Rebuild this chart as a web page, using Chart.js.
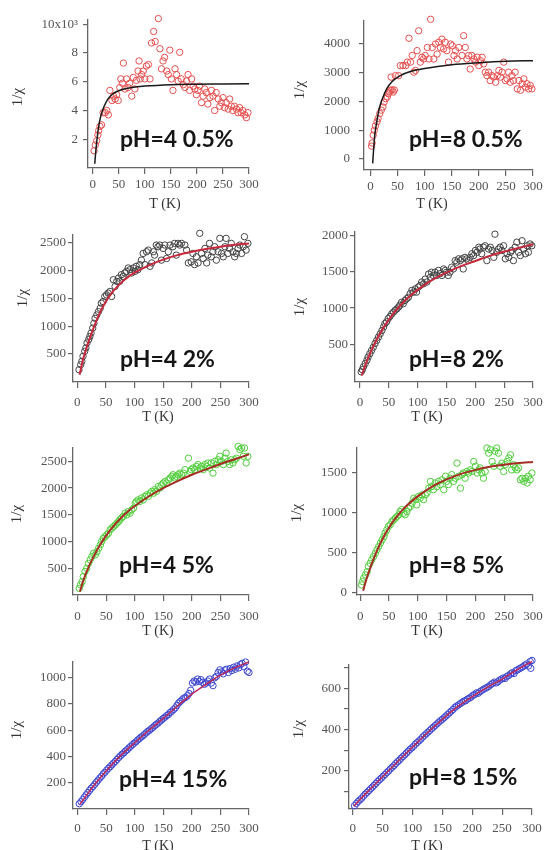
<!DOCTYPE html>
<html>
<head>
<meta charset="utf-8">
<script src="https://cdn.jsdelivr.net/npm/chart.js@4.4.0/dist/chart.umd.min.js"></script>
<style>
  body { margin: 0; background: #fff; }
  #fig { position: relative; width: 545px; height: 850px; overflow: hidden; }
  #fig canvas { position: absolute; }
</style>
</head>
<body>
<div id="fig"></div>
<script>
// T (K) tick labels shared by all panels
const xTicks = [0, 50, 100, 150, 200, 250, 300];

// y tick values per panel
const yTicks_pH4_05 = [2, 4, 6, 8, 10];
const yTicks_pH8_05 = [0, 1000, 2000, 3000, 4000];
const yTicks_pH4_2 = [500, 1000, 1500, 2000, 2500];
const yTicks_pH8_2 = [500, 1000, 1500, 2000];
const yTicks_pH4_5 = [500, 1000, 1500, 2000, 2500];
const yTicks_pH8_5 = [0, 500, 1000, 1500];
const yTicks_pH4_15 = [200, 400, 600, 800, 1000];
const yTicks_pH8_15 = [100, 200, 300, 400, 500, 600, 700];

// measured points [T, 1/chi]  (pH=4 0.5% in units of 10^3)
const pts_pH4_05 = [[2.6,1.2],[5,1.6],[7.7,1.9],[10,2.3],[11.5,2.6],[14,2.9],[17,3.0],[20,3.85],[24,3.85],[27,4.0],[30,3.7],[33,5.4],[37,4.7],[40,5.0],[43,4.8],[46,5.1],[49,4.7],[52,5.6],[54,6.2],[57,5.9],[59,7.3],[62,5.5],[65,6.2],[68,5.6],[71,5.9],[75,5.0],[78,6.3],[81,5.5],[84,6.1],[87,6.75],[89,7.45],[91,6.2],[94,6.5],[97,6.75],[100,6.2],[103,7.1],[107,7.2],[110,6.2],[113,8.7],[117,9.5],[120,8.8],[126,10.4],[129,8.3],[132,6.9],[135,7.45],[138,7.7],[142,6.75],[145,6.5],[148,8.2],[151,6.2],[154,5.4],[158,6.9],[161,6.5],[164,6.05],[167,8.05],[170,6.2],[174,5.8],[177,5.6],[180,6.05],[183,6.5],[186,5.4],[190,6.2],[193,5.7],[196,5.5],[199,5.1],[202,5.4],[205,5.7],[209,4.55],[212,5.0],[215,5.5],[218,5.25],[221,4.45],[225,4.9],[228,5.4],[231,5.0],[234,4.0],[237,5.25],[241,4.8],[244,4.3],[247,4.55],[250,4.9],[253,4.2],[256,4.55],[260,4.1],[263,4.8],[266,4.3],[269,4.0],[272,4.3],[276,4.1],[279,3.85],[282,4.2],[285,3.85],[288,4.0],[292,3.7],[295,3.5],[298,3.85]];
const fit_pH4_05 = [[4,0.3],[6,1.2],[8,1.9],[10,2.5],[13,3.2],[17,3.8],[22,4.3],[30,4.85],[40,5.2],[55,5.45],[75,5.6],[100,5.7],[150,5.8],[200,5.83],[250,5.85],[300,5.87]];

const pts_pH8_05 = [[2,450],[3,560],[5,830],[7,1000],[9,1150],[12,1300],[14,1410],[17,1580],[20,1700],[23,1810],[25,1980],[28,2100],[31,2160],[33,2270],[35,2330],[37,2390],[40,2410],[42,2330],[44,2400],[38,2850],[46,2900],[52,2900],[55,3250],[60,3250],[65,3250],[68,3370],[71,4200],[74,3370],[77,3600],[80,3020],[83,3080],[86,3770],[89,4460],[92,3370],[95,3540],[98,3480],[101,3600],[105,3880],[108,3480],[111,4860],[114,3880],[117,3480],[120,4000],[123,3650],[126,4060],[129,3880],[132,4170],[135,3830],[138,4060],[141,3770],[144,3370],[148,4000],[151,3940],[154,3600],[157,3770],[160,3480],[163,3880],[169,3600],[172,4290],[175,3880],[178,3480],[181,3600],[184,3130],[187,3600],[191,3480],[194,3370],[197,3540],[200,3250],[203,3420],[206,3540],[209,3310],[212,3020],[215,2900],[218,3020],[221,2730],[224,2900],[227,2850],[231,2670],[234,2900],[237,3080],[240,2850],[243,3020],[246,3370],[249,2730],[252,2790],[255,3020],[258,2670],[261,2900],[264,2730],[267,3020],[271,2440],[274,2730],[277,2390],[280,2620],[283,2790],[286,2500],[289,2620],[292,2440],[295,2560],[298,2440]];
const fit_pH8_05 = [[4,-150],[6,400],[8,850],[12,1350],[16,1750],[22,2100],[30,2450],[40,2700],[55,2900],[75,3050],[100,3150],[150,3280],[200,3350],[250,3400],[300,3420]];

const pts_pH4_2 = [[3,220],[6,310],[8,370],[10,460],[13,550],[15,610],[17,700],[20,760],[22,815],[24,875],[27,965],[29,1050],[31,1140],[34,1200],[37,1260],[40,1320],[42,1410],[45,1440],[48,1530],[51,1560],[54,1590],[57,1620],[60,1530],[63,1830],[66,1710],[69,1800],[72,1860],[74,1800],[77,1920],[80,1890],[83,1950],[86,1980],[89,2040],[92,2010],[95,1950],[98,2040],[101,1980],[103,2070],[106,2010],[109,2100],[112,2180],[115,2300],[118,2100],[121,2330],[124,2360],[127,2070],[130,2130],[133,2330],[135,2270],[138,2450],[141,2420],[144,2450],[147,2180],[150,2390],[153,2450],[156,2210],[159,2330],[162,2450],[167,2420],[170,2480],[173,2270],[176,2480],[179,2450],[182,2480],[188,2450],[191,2360],[194,2130],[199,2150],[202,2300],[205,2100],[208,2240],[211,2130],[214,2660],[217,2300],[220,2210],[223,2390],[226,2130],[228,2270],[231,2480],[234,2240],[237,2330],[240,2420],[243,2180],[246,2330],[249,2570],[252,2300],[255,2240],[258,2420],[260,2570],[263,2300],[266,2390],[269,2480],[272,2330],[275,2240],[278,2300],[281,2390],[284,2450],[287,2300],[290,2420],[292,2600],[295,2360],[298,2480]];
const fit_pH4_2 = [[4,130],[10,400],[20,730],[30,1010],[40,1250],[50,1440],[60,1590],[75,1760],[90,1890],[110,2010],[130,2110],[150,2190],[175,2270],[200,2330],[225,2380],[250,2420],[275,2455],[300,2480]];

const pts_pH8_2 = [[2,120],[4,150],[6,190],[9,235],[12,280],[14,325],[17,370],[20,415],[23,460],[26,510],[29,555],[32,600],[35,645],[38,690],[41,740],[43,785],[46,810],[49,855],[52,885],[55,920],[58,945],[61,970],[64,990],[67,1015],[69,1040],[72,1080],[75,1060],[78,1105],[81,1130],[84,1150],[87,1200],[90,1245],[93,1220],[96,1265],[98,1220],[101,1290],[104,1310],[107,1360],[110,1335],[113,1400],[116,1360],[119,1470],[122,1425],[124,1495],[127,1450],[130,1495],[133,1450],[136,1520],[139,1475],[142,1450],[145,1540],[148,1520],[150,1495],[153,1450],[156,1495],[159,1565],[162,1540],[165,1655],[168,1635],[171,1680],[174,1655],[177,1680],[179,1540],[182,1700],[185,1680],[188,1655],[191,1700],[194,1750],[197,1725],[200,1795],[203,1770],[206,1840],[208,1815],[211,1750],[214,1840],[217,1860],[220,1655],[223,1815],[226,1840],[229,1795],[232,1700],[234,2020],[237,1770],[240,1815],[243,1840],[246,1795],[249,1860],[252,1680],[255,1750],[258,1700],[261,1770],[263,1795],[266,1655],[269,1840],[272,1910],[275,1770],[278,1725],[281,1930],[284,1815],[287,1750],[290,1860],[292,1770],[295,1885],[298,1860]];
const fit_pH8_2 = [[3,70],[10,230],[20,420],[30,580],[40,720],[50,840],[60,945],[75,1080],[90,1190],[110,1310],[130,1410],[150,1490],[175,1580],[200,1650],[225,1720],[250,1780],[275,1830],[300,1880]];

const pts_pH4_5 = [[3,125],[5,190],[8,250],[10,345],[13,440],[16,500],[19,590],[22,655],[25,720],[28,780],[31,750],[34,810],[37,875],[40,940],[42,1000],[45,1060],[48,1090],[51,1125],[54,1155],[57,1220],[60,1250],[63,1280],[66,1310],[69,1345],[72,1375],[74,1410],[77,1440],[80,1470],[83,1530],[86,1500],[89,1560],[92,1530],[95,1595],[98,1625],[101,1720],[103,1750],[106,1780],[109,1750],[112,1815],[115,1780],[118,1845],[121,1875],[124,1845],[127,1905],[130,1940],[133,1905],[135,1970],[138,1940],[141,2030],[144,2000],[147,2060],[150,2095],[153,2125],[156,2095],[159,2155],[162,2190],[165,2220],[167,2250],[170,2190],[173,2220],[176,2250],[179,2280],[182,2250],[185,2280],[188,2345],[194,2560],[197,2310],[199,2345],[202,2375],[205,2345],[208,2405],[211,2440],[214,2375],[217,2405],[220,2345],[223,2440],[226,2405],[228,2470],[231,2375],[234,2470],[237,2280],[240,2500],[243,2440],[246,2530],[249,2595],[252,2500],[255,2440],[258,2560],[260,2655],[263,2500],[266,2440],[269,2530],[272,2470],[275,2530],[278,2560],[281,2780],[284,2720],[287,2750],[290,2595],[292,2750],[295,2470],[298,2595]];
const fit_pH4_5 = [[4,60],[10,270],[20,540],[30,760],[40,950],[50,1110],[60,1250],[75,1430],[90,1580],[110,1740],[130,1880],[150,2000],[175,2130],[200,2250],[225,2350],[250,2450],[275,2540],[300,2630]];

const pts_pH8_5 = [[2,93],[4,135],[6,180],[9,220],[12,260],[14,325],[17,365],[20,410],[23,450],[26,490],[29,535],[32,575],[35,620],[38,660],[41,700],[43,745],[46,785],[49,830],[52,850],[55,890],[58,910],[61,935],[64,955],[67,975],[69,1015],[72,1040],[75,995],[78,975],[81,1015],[84,1060],[87,1080],[90,1120],[93,1185],[96,1165],[98,1100],[101,1205],[104,1185],[107,1225],[110,1165],[113,1225],[116,1250],[119,1310],[122,1395],[124,1330],[127,1290],[130,1375],[133,1330],[136,1395],[139,1355],[142,1415],[145,1290],[148,1460],[150,1395],[153,1355],[156,1435],[159,1480],[162,1395],[165,1435],[168,1625],[171,1460],[174,1310],[177,1480],[179,1500],[182,1435],[185,1520],[188,1500],[191,1540],[194,1520],[197,1645],[200,1585],[203,1500],[206,1540],[208,1565],[211,1500],[214,1435],[217,1520],[220,1815],[223,1750],[226,1795],[229,1645],[232,1585],[234,1775],[237,1815],[240,1750],[243,1585],[246,1625],[249,1520],[252,1605],[255,1645],[258,1690],[261,1730],[263,1540],[266,1605],[269,1565],[272,1540],[275,1565],[278,1415],[281,1435],[284,1395],[287,1435],[290,1375],[292,1460],[295,1415],[298,1500]];
const fit_pH8_5 = [[5,20],[10,150],[20,360],[30,540],[40,690],[50,815],[60,920],[75,1050],[90,1150],[110,1260],[130,1350],[150,1420],[175,1490],[200,1540],[225,1580],[250,1605],[275,1625],[300,1640]];

const pts_pH4_15 = [[3,40],[6,55],[9,72],[12,90],[15,108],[18,125],[21,142],[24,158],[27,172],[30,188],[33,205],[36,220],[39,236],[42,250],[45,268],[48,280],[51,296],[54,310],[57,322],[60,336],[63,350],[66,362],[69,378],[72,392],[75,405],[78,418],[81,428],[84,442],[87,452],[90,466],[93,478],[96,490],[99,502],[102,512],[105,525],[108,535],[111,548],[114,556],[117,568],[120,580],[123,592],[126,600],[129,612],[132,622],[135,635],[138,645],[141,655],[144,668],[147,678],[150,690],[153,700],[156,712],[159,720],[162,735],[165,745],[168,758],[171,770],[174,790],[177,808],[180,820],[183,832],[186,845],[189,850],[192,862],[195,880],[198,905],[201,960],[204,975],[207,968],[210,990],[213,972],[216,985],[219,965],[222,950],[225,960],[228,975],[231,990],[234,960],[237,940],[240,1000],[243,1010],[246,1040],[249,1060],[252,1045],[255,1030],[258,1060],[261,1065],[264,1040],[267,1070],[270,1055],[273,1080],[276,1065],[279,1090],[282,1075],[285,1100],[288,1110],[291,1085],[294,1120],[297,1050],[300,1040]];
const fit_pH4_15 = [[4,35],[10,70],[25,160],[50,290],[75,405],[100,505],[125,600],[150,690],[175,785],[200,875],[225,950],[250,1020],[275,1075],[300,1120]];

const pts_pH8_15 = [[3,32],[6,42],[9,52],[12,60],[15,68],[18,78],[21,88],[24,96],[27,105],[30,114],[33,122],[36,131],[39,140],[42,150],[45,158],[48,166],[51,175],[54,183],[57,192],[60,200],[63,210],[66,218],[69,226],[72,236],[75,245],[78,252],[81,262],[84,270],[87,278],[90,287],[93,296],[96,305],[99,312],[102,320],[105,330],[108,338],[111,346],[114,354],[117,364],[120,372],[123,380],[126,388],[129,396],[132,405],[135,412],[138,420],[141,428],[144,436],[147,444],[150,450],[153,458],[156,466],[159,474],[162,482],[165,490],[168,498],[171,508],[174,514],[177,520],[180,526],[183,532],[186,538],[189,540],[192,548],[195,552],[198,558],[201,566],[204,570],[207,578],[210,576],[213,584],[216,590],[219,596],[222,600],[225,605],[228,610],[231,618],[234,624],[237,630],[240,626],[243,632],[246,640],[249,645],[252,650],[255,648],[258,658],[261,662],[264,670],[267,676],[270,672],[273,686],[276,690],[279,695],[282,700],[285,705],[288,712],[291,718],[294,708],[297,730],[298,697],[300,735]];
const fit_pH8_15 = [[2,30],[10,55],[25,100],[50,172],[75,245],[100,315],[125,385],[150,450],[175,510],[200,560],[225,605],[250,645],[275,690],[300,730]];

const labels = ['pH=4 0.5%', 'pH=8 0.5%', 'pH=4 2%', 'pH=8 2%', 'pH=4 5%', 'pH=8 5%', 'pH=4 15%', 'pH=8 15%'];

// layout: plot box in page px (L,R,T,B), axis ranges, text anchors
const panels = [
  { pts: pts_pH4_05, fit: fit_pH4_05, yt: yTicks_pH4_05, col: 0, row: 0, L: 88, R: 249, T: 20, B: 168, xMin: -9, yMin: 0, yMax: 10.3,
    dot: 'rgb(228,80,80)', line: '#1a1a1a', lw: 1.5, xPad: 3, yPad: 5, xt: [165, 204], ylab: [18, 97], lab: [120, 147],
    fmt: v => v === 10 ? '10x10³' : v },
  { pts: pts_pH8_05, fit: fit_pH8_05, yt: yTicks_pH8_05, col: 1, row: 0, L: 364, R: 533, T: 21, B: 170, xMin: -12, yMin: -380, yMax: 4800,
    dot: 'rgb(228,80,80)', line: '#1a1a1a', lw: 1.5, xPad: 3, yPad: 9, xt: [432, 204], ylab: [300, 90], lab: [409, 147] },
  { pts: pts_pH4_2, fit: fit_pH4_2, yt: yTicks_pH4_2, col: 0, row: 1, L: 73, R: 249, T: 235, B: 382, xMin: -7.5, yMin: 0, yMax: 2630,
    dot: '#444', line: 'rgb(200,40,60)', lw: 2, xPad: 7, yPad: 2, xt: [158, 417], ylab: [23, 298], lab: [120, 367] },
  { pts: pts_pH8_2, fit: fit_pH8_2, yt: yTicks_pH8_2, col: 1, row: 1, L: 355, R: 533, T: 232, B: 382, xMin: -8.7, yMin: -20, yMax: 2050,
    dot: '#444', line: 'rgb(200,40,60)', lw: 2, xPad: 7, yPad: 2, xt: [427, 417], ylab: [300, 307], lab: [409, 367] },
  { pts: pts_pH4_5, fit: fit_pH4_5, yt: yTicks_pH4_5, col: 0, row: 2, L: 73, R: 249, T: 448, B: 595, xMin: -8, yMin: 0, yMax: 2750,
    dot: 'rgb(80,205,60)', line: 'rgb(165,45,35)', lw: 2, xPad: 8, yPad: 1, xt: [158, 631], ylab: [17, 514], lab: [119, 573] },
  { pts: pts_pH8_5, fit: fit_pH8_5, yt: yTicks_pH8_5, col: 1, row: 2, L: 357, R: 533, T: 448, B: 595, xMin: -5.7, yMin: -34, yMax: 1815,
    dot: 'rgb(80,205,60)', line: 'rgb(165,45,35)', lw: 2, xPad: 8, yPad: 5, xt: [427, 631], ylab: [297, 513], lab: [409, 573] },
  { pts: pts_pH4_15, fit: fit_pH4_15, yt: yTicks_pH4_15, col: 0, row: 3, L: 73, R: 249, T: 662, B: 809, xMin: -8, yMin: 0, yMax: 1120,
    dot: 'rgb(60,70,205)', line: 'rgb(190,40,90)', lw: 1.5, xPad: 6, yPad: 2, xt: [158, 846], ylab: [17, 730], lab: [119, 787] },
  { pts: pts_pH8_15, fit: fit_pH8_15, yt: yTicks_pH8_15, col: 1, row: 3, L: 349, R: 532, T: 665, B: 809, xMin: -6.2, yMin: 16, yMax: 713,
    dot: 'rgb(60,70,205)', line: 'rgb(190,40,90)', lw: 1.5, xPad: 6, yPad: 3, xt: [427, 846], ylab: [299, 729], lab: [409, 785],
    fmt: v => v % 200 === 0 ? v : '' }
];

const rowTop = [0, 205, 415, 630];
const rowH = [215, 220, 225, 220];
const X_AXIS_H = 30;
const axisColor = '#666';
const tickFont = { family: 'Liberation Serif', size: 13 };

function textPlugin(p, label, cx, cy) {
  return {
    id: 'panelText',
    afterDraw(chart) {
      const ctx = chart.ctx;
      ctx.save();
      ctx.fillStyle = '#333';
      ctx.font = '14px "Liberation Serif"';
      ctx.textAlign = 'center';
      ctx.textBaseline = 'middle';
      ctx.fillText('T (K)', p.xt[0] - cx, p.xt[1] - cy);
      ctx.translate(p.ylab[0] - cx, p.ylab[1] - cy);
      ctx.rotate(-Math.PI / 2);
      ctx.font = '15px "Liberation Serif"';
      ctx.fillText('1/χ', 0, 0);
      ctx.restore();

      ctx.save();
      ctx.fillStyle = '#151515';
      ctx.font = 'bold 23px Lato';
      ctx.textAlign = 'left';
      ctx.textBaseline = 'alphabetic';
      ctx.fillText(label, p.lab[0] - cx, p.lab[1] - cy);
      ctx.restore();
    }
  };
}

const fig = document.getElementById('fig');

panels.forEach((p, i) => {
  const cx = p.col === 0 ? 0 : 272;
  const cw = p.col === 0 ? 272 : 273;
  const cy = rowTop[p.row];
  const ch = rowH[p.row];

  const canvas = document.createElement('canvas');
  canvas.width = cw;
  canvas.height = ch;
  canvas.style.left = cx + 'px';
  canvas.style.top = cy + 'px';
  canvas.style.width = cw + 'px';
  canvas.style.height = ch + 'px';
  fig.appendChild(canvas);

  new Chart(canvas, {
    type: 'scatter',
    data: {
      datasets: [
        {
          data: p.fit.map(([x, y]) => ({ x, y })),
          showLine: true,
          borderColor: p.line,
          borderWidth: p.lw,
          pointRadius: 0,
          cubicInterpolationMode: 'monotone',
          fill: false,
          clip: false,
          order: 0
        },
        {
          data: p.pts.map(([x, y]) => ({ x, y })),
          pointRadius: 3.2,
          borderColor: p.dot,
          backgroundColor: 'rgba(0,0,0,0)',
          borderWidth: 1,
          clip: false,
          order: 1
        }
      ]
    },
    options: {
      responsive: false,
      animation: false,
      events: [],
      layout: {
        padding: {
          left: 0,
          top: p.T - cy,
          right: cx + cw - p.R,
          bottom: cy + ch - p.B - X_AXIS_H
        }
      },
      plugins: { legend: { display: false }, tooltip: { enabled: false } },
      scales: {
        x: {
          type: 'linear',
          min: p.xMin,
          max: 300,
          afterBuildTicks: s => { s.ticks = xTicks.map(v => ({ value: v })); },
          afterFit: s => { s.height = X_AXIS_H; s.paddingLeft = 0; s.paddingRight = 0; },
          grid: { drawOnChartArea: false, drawTicks: true, tickLength: 6, color: axisColor, lineWidth: 1.2 },
          border: { display: true, color: axisColor, width: 1.3 },
          ticks: { font: tickFont, color: '#555', padding: p.xPad, maxRotation: 0, autoSkip: false }
        },
        y: {
          type: 'linear',
          min: p.yMin,
          max: p.yMax,
          afterBuildTicks: s => { s.ticks = p.yt.map(v => ({ value: v })); },
          afterFit: s => { s.width = p.L - cx; s.paddingTop = 0; s.paddingBottom = 0; },
          grid: { drawOnChartArea: false, drawTicks: true, tickLength: 5, color: axisColor, lineWidth: 1.2 },
          border: { display: true, color: axisColor, width: 1.3 },
          ticks: { font: tickFont, color: '#555', padding: p.yPad, autoSkip: false, callback: p.fmt || (v => v) }
        }
      }
    },
    plugins: [textPlugin(p, labels[i], cx, cy)]
  });
});
</script>
</body>
</html>
